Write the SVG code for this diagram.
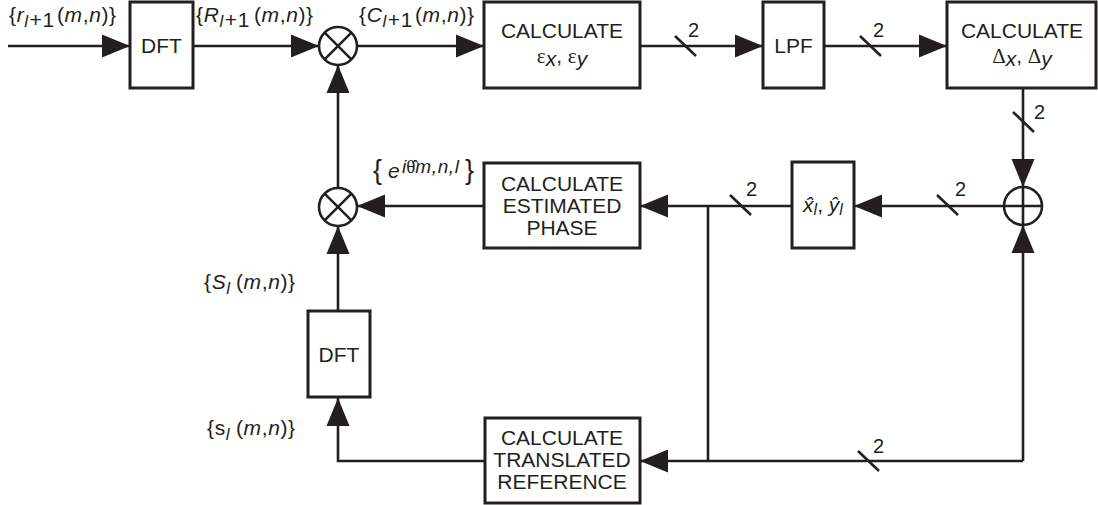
<svg xmlns="http://www.w3.org/2000/svg" width="1098" height="505" viewBox="0 0 1098 505">
<style>
.ln{stroke:#231f20;stroke-width:2.6;fill:none}
.box{fill:#fff;stroke:#231f20;stroke-width:3}
.t{font-family:"Liberation Sans",Arial,sans-serif;font-size:21px;fill:#231f20}
.c{text-anchor:middle}
.i{font-style:italic}
.sym{font-family:"Liberation Serif","Times New Roman",serif}
.n2{font-family:"Liberation Sans",Arial,sans-serif;font-size:20px;fill:#231f20}
.lb{letter-spacing:0.6px}
</style>
<defs>
<marker id="ah" markerUnits="userSpaceOnUse" markerWidth="28" markerHeight="24" refX="28" refY="12" orient="auto">
<path d="M0,0.5 L28,12 L0,23.5 z" fill="#231f20"/>
</marker>
</defs>
<rect width="1098" height="505" fill="#fff"/>

<g id="connectors">
<path class="ln" d="M8,46 H130" marker-end="url(#ah)"/>
<path class="ln" d="M193,46 H319" marker-end="url(#ah)"/>
<path class="ln" d="M357,46 H484" marker-end="url(#ah)"/>
<path class="ln" d="M640,46 H763" marker-end="url(#ah)"/>
<path class="ln" d="M824,46 H947" marker-end="url(#ah)"/>
<path class="ln" d="M1023,88 V187" marker-end="url(#ah)"/>
<path class="ln" d="M1004,206 H854" marker-end="url(#ah)"/>
<path class="ln" d="M792,206 H640" marker-end="url(#ah)"/>
<path class="ln" d="M708,206 V461"/>
<path class="ln" d="M1023,461 V225" marker-end="url(#ah)"/>
<path class="ln" d="M1023,461 H640" marker-end="url(#ah)"/>
<path class="ln" d="M484,206 H357" marker-end="url(#ah)"/>
<path class="ln" d="M338,188 V65" marker-end="url(#ah)"/>
<path class="ln" d="M485,461 H338 V398" marker-end="url(#ah)"/>
<path class="ln" d="M338,311 V226" marker-end="url(#ah)"/>
<g id="buswidth">
<path class="ln" d="M675,36 L696,56 M860,36 L881,56 M1013,112 L1034,132 M937,195 L958,215 M730,195 L751,215 M858,451 L879,471"/>
<text class="n2" x="688" y="37">2</text>
<text class="n2" x="873" y="37">2</text>
<text class="n2" x="1034" y="119">2</text>
<text class="n2" x="955" y="196">2</text>
<text class="n2" x="746" y="196">2</text>
<text class="n2" x="873" y="453">2</text>
</g>
</g>

<g id="lbl-r">
<text class="t lb" y="22"><tspan x="9">{</tspan><tspan class="i">r</tspan><tspan class="i" font-size="17" dy="5">l</tspan><tspan dx="1">+1</tspan><tspan x="57" dy="-5">(</tspan><tspan class="i">m</tspan>,<tspan class="i">n</tspan>)}</text>
</g>
<g id="lbl-R">
<text class="t lb" y="22"><tspan x="196">{</tspan><tspan class="i">R</tspan><tspan class="i" font-size="17" dy="5">l</tspan><tspan dx="1">+1</tspan><tspan x="254" dy="-5">(</tspan><tspan class="i">m</tspan>,<tspan class="i">n</tspan>)}</text>
</g>
<g id="lbl-C">
<text class="t lb" y="22"><tspan x="359">{</tspan><tspan class="i">C</tspan><tspan class="i" font-size="17" dy="5">l</tspan><tspan dx="1">+1</tspan><tspan x="415" dy="-5">(</tspan><tspan class="i">m</tspan>,<tspan class="i">n</tspan>)}</text>
</g>
<g id="lbl-S">
<text class="t lb" y="289"><tspan x="204">{</tspan><tspan class="i">S</tspan><tspan class="i" font-size="17" dy="5">l</tspan><tspan x="236" dy="-5">(</tspan><tspan class="i">m</tspan>,<tspan class="i">n</tspan>)}</text>
</g>
<g id="lbl-s">
<text class="t lb" y="435"><tspan x="207">{</tspan>s<tspan class="i" font-size="17" dy="5">l</tspan><tspan x="236" dy="-5">(</tspan><tspan class="i">m</tspan>,<tspan class="i">n</tspan>)}</text>
</g>
<g id="lbl-e">
<text class="t" y="179"><tspan x="373" font-size="27">{</tspan><tspan class="i" x="388" dy="-1">e</tspan><tspan class="i" font-size="19" x="402" dy="-5">i</tspan><tspan class="sym" font-size="19">θ̂</tspan><tspan class="i" font-size="19" letter-spacing="0.6">m,n,l</tspan><tspan x="465" dy="6" font-size="27">}</tspan></text>
</g>

<g id="dft1"><rect class="box" x="130" y="2" width="63" height="86"/><text class="t c" x="161.5" y="53">DFT</text></g>
<g id="mult1"><circle class="ln" cx="338" cy="46" r="19"/><path class="ln" d="M324.6,32.6 L351.4,59.4 M351.4,32.6 L324.6,59.4"/></g>
<g id="calc-eps"><rect class="box" x="484" y="2" width="156" height="86"/><text class="t c" x="562" y="38">CALCULATE</text><text class="t c" x="562" y="63"><tspan class="sym">ε</tspan><tspan class="i" dy="3">x</tspan><tspan dy="-3">, </tspan><tspan class="sym">ε</tspan><tspan class="i" dy="3">y</tspan></text></g>
<g id="lpf"><rect class="box" x="763" y="2" width="61" height="86"/><text class="t c" x="793.5" y="53">LPF</text></g>
<g id="calc-delta"><rect class="box" x="947" y="2" width="149" height="86"/><text class="t c" x="1022" y="38">CALCULATE</text><text class="t c" x="1022" y="63"><tspan class="sym">Δ</tspan><tspan class="i" dy="3">x</tspan><tspan dy="-3">, </tspan><tspan class="sym">Δ</tspan><tspan class="i" dy="3">y</tspan></text></g>
<g id="adder"><circle class="ln" cx="1023" cy="206" r="19"/><path class="ln" d="M1004,206 H1042 M1023,187 V225"/></g>
<g id="xyhat"><rect class="box" x="792" y="162" width="62" height="86"/><text class="t c" x="823" y="212"><tspan class="i">x̂</tspan><tspan class="i" font-size="16" dy="3">l</tspan><tspan dy="-3">, </tspan><tspan class="i">ŷ</tspan><tspan class="i" font-size="16" dy="3">l</tspan></text></g>
<g id="calc-phase"><rect class="box" x="484" y="163" width="156" height="85"/><text class="t c" x="562" y="191">CALCULATE</text><text class="t c" x="562" y="213">ESTIMATED</text><text class="t c" x="562" y="235">PHASE</text></g>
<g id="mult2"><circle class="ln" cx="338" cy="207" r="19"/><path class="ln" d="M324.6,193.6 L351.4,220.4 M351.4,193.6 L324.6,220.4"/></g>
<g id="dft2"><rect class="box" x="308" y="311" width="62" height="86"/><text class="t c" x="339" y="362">DFT</text></g>
<g id="calc-ref"><rect class="box" x="485" y="418" width="155" height="85"/><text class="t c" x="562" y="445">CALCULATE</text><text class="t c" x="562" y="467">TRANSLATED</text><text class="t c" x="562" y="489">REFERENCE</text></g>
</svg>
